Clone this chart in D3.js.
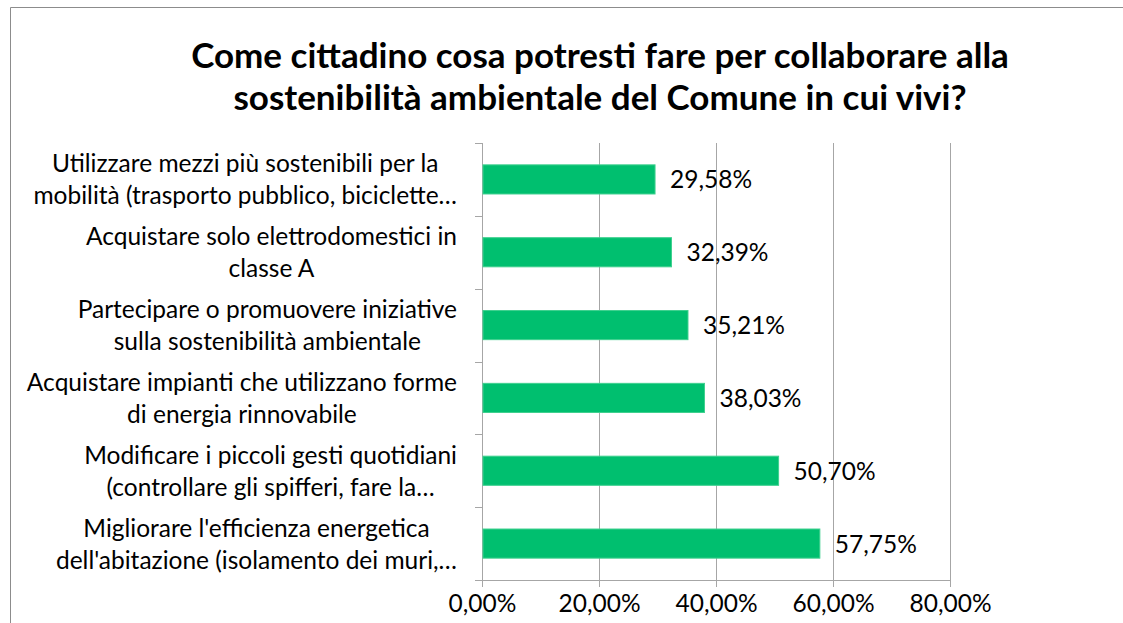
<!DOCTYPE html>
<html>
<head>
<meta charset="utf-8">
<script src="https://cdn.jsdelivr.net/npm/d3@7"></script>
<style>
  body { margin: 0; background: #fff; }
  text { font-family: Lato, "Open Sans", sans-serif; fill: #000; }
</style>
</head>
<body>
<svg id="chart" width="1123" height="623"></svg>
<script>
  // chart data
  const titleLines = [
    'Come cittadino cosa potresti fare per collaborare alla',
    'sostenibilità ambientale del Comune in cui vivi?'
  ];
  const categories = [
    'Utilizzare mezzi più sostenibili per la\nmobilità (trasporto pubblico, biciclette…',
    'Acquistare solo elettrodomestici in\nclasse A',
    'Partecipare o promuovere iniziative\nsulla sostenibilità ambientale',
    'Acquistare impianti che utilizzano forme\ndi energia rinnovabile',
    'Modificare i piccoli gesti quotidiani\n(controllare gli spifferi, fare la…',
    "Migliorare l'efficienza energetica\ndell'abitazione (isolamento dei muri,…"
  ];
  const values = [29.58, 32.39, 35.21, 38.03, 50.70, 57.75];
  const xTicks = [0, 20, 40, 60, 80];

  const svg = d3.select('#chart');
  const plot = {left: 482, right: 950, top: 143, bottom: 580};
  const gridColor = '#a6a6a6';
  const pct = v => d3.format('.2f')(v).replace('.', ',') + '%';

  // outer frame (only top and left edges are visible)
  svg.append('path')
    .attr('d', 'M10.5,623 V7.5 H1123')
    .attr('fill', 'none')
    .attr('stroke', '#8c8c8c');

  // title
  svg.append('text')
    .attr('text-anchor', 'middle')
    .attr('font-weight', 'bold')
    .attr('font-size', 35)
    .selectAll('tspan')
    .data(titleLines)
    .join('tspan')
    .attr('x', 600)
    .attr('y', (d, i) => 68 + i * 42)
    .text(d => d);

  const x = d3.scaleLinear().domain([0, 80]).range([plot.left, plot.right]);
  const y = d3.scaleBand()
    .domain(categories)
    .range([plot.top, plot.bottom])
    .paddingInner(0.6)
    .paddingOuter(0.3);

  // vertical gridlines + bottom axis
  const xAxis = d3.axisBottom(x)
    .tickValues(xTicks)
    .tickSize(plot.bottom - plot.top + 7)
    .tickPadding(8)
    .tickFormat(pct);

  const gx = svg.append('g')
    .attr('transform', `translate(0,${plot.top})`)
    .call(xAxis);
  gx.select('.domain').remove();
  gx.selectAll('.tick line').attr('stroke', gridColor);
  gx.selectAll('.tick text')
    .attr('font-size', 24.5)
    .attr('font-family', 'Lato, sans-serif')
    .attr('fill', '#000');

  svg.append('line')
    .attr('x1', plot.left).attr('x2', plot.right)
    .attr('y1', plot.bottom + 0.5).attr('y2', plot.bottom + 0.5)
    .attr('stroke', gridColor);

  // left axis with ticks at the band boundaries
  svg.append('line')
    .attr('x1', plot.left + 0.5).attr('x2', plot.left + 0.5)
    .attr('y1', plot.top).attr('y2', plot.bottom)
    .attr('stroke', gridColor);

  const step = y.step();
  svg.append('g')
    .selectAll('line')
    .data(d3.range(categories.length + 1))
    .join('line')
    .attr('x1', plot.left - 7).attr('x2', plot.left)
    .attr('y1', i => Math.round(plot.top + i * step) + 0.5)
    .attr('y2', i => Math.round(plot.top + i * step) + 0.5)
    .attr('stroke', gridColor);

  // bars
  svg.append('g')
    .selectAll('rect')
    .data(values)
    .join('rect')
    .attr('x', plot.left + 1)
    .attr('y', (d, i) => y(categories[i]))
    .attr('width', d => x(d) - plot.left - 1)
    .attr('height', y.bandwidth())
    .attr('fill', '#00bf6f')
    .attr('stroke', '#3fd08f')
    .attr('stroke-width', 1);

  // value labels
  svg.append('g')
    .selectAll('text')
    .data(values)
    .join('text')
    .attr('x', d => x(d) + 15)
    .attr('y', (d, i) => y(categories[i]) + y.bandwidth() / 2 + 9)
    .attr('font-size', 24.5)
    .text(d => pct(d));

  // category labels, each block centered on its widest line
  const labelRight = 457;
  const lineGap = 32;
  categories.forEach(cat => {
    const lines = cat.split('\n');
    const cy = y(cat) + y.bandwidth() / 2;
    const t = svg.append('text')
      .attr('font-size', 24.5)
      .attr('text-anchor', 'middle');
    lines.forEach((l, i) => {
      t.append('tspan')
        .attr('y', cy - 7 + i * lineGap)
        .text(l);
    });
    const widest = d3.max(t.selectAll('tspan').nodes(), n => n.getComputedTextLength());
    t.selectAll('tspan').attr('x', labelRight - widest / 2);
  });
</script>
</body>
</html>
